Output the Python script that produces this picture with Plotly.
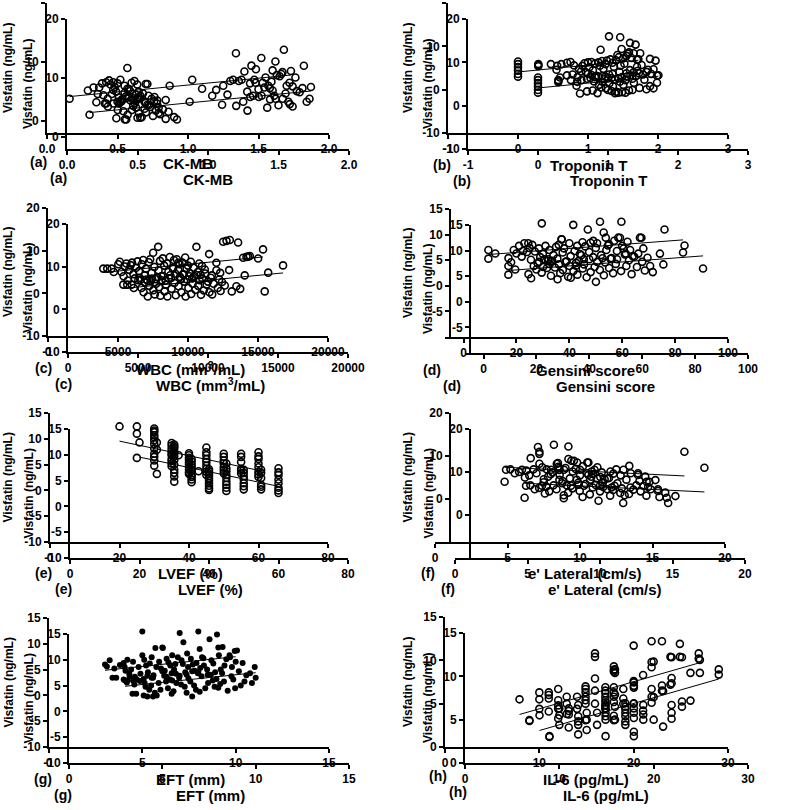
import numpy as np
import plotly.graph_objects as go

# ---------------- data ----------------
a_x = [0.16,0.29,0.33,0.35,0.36,0.37,0.39,0.40,0.41,0.42,
       0.42,0.43,0.44,0.45,0.46,0.47,0.47,0.48,0.49,0.50,
       0.50,0.51,0.52,0.52,0.53,0.55,0.55,0.56,0.57,0.57,
       0.58,0.59,0.60,0.61,0.62,0.63,0.64,0.65,0.65,0.66,
       0.68,0.70,0.70,0.72,0.76,0.78,0.87,1.03,1.10,1.20,
       1.25,1.28,1.30,1.32,1.34,1.36,1.38,1.40,1.42,1.44,
       1.45,1.47,1.48,1.50,1.52,1.53,1.55,1.57,1.58,1.60,
       1.60,1.62,1.63,1.65,1.67,1.68,1.70,1.72,1.73]
a_y = [3.8,5.2,5.7,3.2,4.6,5.7,6.4,4.4,3.0,6.6,
       3.0,3.8,6.9,6.2,4.6,6.6,5.3,5.8,5.0,6.4,
       3.3,4.0,7.0,3.3,3.4,6.0,4.8,4.2,9.0,5.5,
       5.4,5.1,6.5,3.6,6.8,4.5,6.2,5.0,4.1,3.9,
       4.7,6.3,3.1,4.3,3.4,3.0,6.0,7.0,5.5,5.3,
       6.0,4.5,6.8,7.0,11.5,6.8,7.0,8.4,5.0,6.4,
       9.4,7.0,6.5,5.4,10.7,6.5,7.4,6.0,5.6,8.6,
       5.2,10.1,7.8,7.6,8.3,12.1,6.0,6.5,8.5]

b_x = [0,0,0,0,0,0,0.29,0.29,0.29,0.47,
       0.55,0.56,0.60,0.62,0.70,0.70,0.75,0.78,0.80,0.85,
       0.87,0.90,0.92,0.95,0.97,1.00,1.00,1.02,1.05,1.05,
       1.07,1.10,1.10,1.12,1.15,1.15,1.17,1.18,1.20,1.20,
       1.22,1.25,1.25,1.27,1.30,1.30,1.32,1.35,1.35,1.37,
       1.40,1.42,1.44,1.45,1.46,1.48,1.50,1.52,1.55,1.55,
       1.57,1.60,1.60,1.62,1.65,1.65,1.68,1.70,1.70,1.72]
b_y = [6.5,5.9,5.2,4.4,3.6,3.0,5.7,5.4,5.9,5.9,
       4.6,5.5,2.8,5.9,6.2,3.3,6.4,3.5,5.6,2.9,
       4.8,4.2,5.5,6.1,4.0,6.3,3.6,5.2,6.4,3.4,
       4.5,6.0,2.9,3.2,6.3,3.0,5.5,9.2,6.6,3.1,
       4.8,5.9,3.0,6.7,12.3,3.5,7.0,6.2,3.6,5.3,
       6.8,8.0,7.5,4.1,12.1,9.4,7.2,6.0,7.8,3.8,
       8.3,10.8,4.5,7.3,8.4,4.0,10.4,6.9,5.3,7.0]

c_x = [3950,4230,4540,4700,5020,5130,5250,5400,5500,5600,
       5700,5800,5900,6000,6100,6200,6300,6400,6500,6600,
       6700,6800,6900,7000,7100,7200,7300,7400,7510,7600,
       7700,7870,7900,8000,8100,8200,8300,8400,8500,8600,
       8700,8800,8900,9000,9100,9200,9300,9400,9500,9600,
       9700,9800,9900,10000,10100,10200,10300,10400,10600,10700,
       10800,10900,11000,11200,11510,11700,12030,12300,12510,12750,
       12990,13580,14050,14300,15360]
c_y = [5.8,5.8,5.8,5.0,6.8,7.4,5.0,4.0,6.3,7.0,
       3.0,5.5,6.6,7.2,4.5,3.5,6.0,7.5,5.2,3.2,
       6.8,7.8,4.2,5.8,3.0,7.3,8.0,4.8,9.5,6.2,
       3.3,10.9,5.4,7.6,4.0,8.2,6.5,3.0,7.0,5.0,
       8.5,3.6,6.0,7.8,4.6,8.0,5.5,6.8,3.4,7.2,
       4.4,8.4,5.8,6.5,4.0,7.4,3.5,6.0,10.9,5.0,
       7.0,4.3,6.4,5.6,9.2,4.2,5.4,4.8,12.1,12.3,
       12.5,11.9,4.2,8.6,10.3]

d_x = [9.4,9.4,12,17,18,19,20,21,22,22.5,
       23,24,24.5,25,25.5,26,27,28,28.5,29,
       29.6,30,31,32,32.5,33,34,35,35.5,36,
       37,37.5,38,39,40,40.5,41.5,42,42.5,43,
       44,45,45.5,46,47,47.5,48,49,50,50.5,
       51.6,52,53,53.8,54,55,56,57,58,58.5,
       59.7,60,61,62,63,64,66.7,68,76,83]
d_y = [7.0,5.3,6.3,5.4,4.6,7.0,6.3,7.8,5.7,6.8,
       8.3,6.6,8.3,7.4,5.1,8.0,6.7,4.4,7.3,5.6,
       12.2,6.2,7.8,4.9,7.0,4.7,6.0,7.6,5.3,8.0,
       9.1,6.5,7.3,4.8,8.3,5.8,11.9,6.8,3.9,7.8,
       6.2,8.5,5.2,7.7,11.0,6.6,8.4,5.6,7.4,8.3,
       12.5,6.0,10.4,9.4,7.0,8.1,5.4,8.8,6.8,9.4,
       12.5,7.8,6.1,8.6,7.0,5.8,9.4,7.3,11.0,6.5]

e_x = [20,25,25,25,30,30,30,30,30,30,
       30,30,30,30,30,30,35,35,35,35,
       35,35,35,35,35,35,37,40,40,40,
       40,40,40,40,40,40,40,45,45,45,
       45,45,45,45,45,45,50,50,50,50,
       50,50,50,55,55,55,55,55,55,60,
       60,60,60,60,60,60,60]
e_y = [12.4,12.4,11.0,6.3,12.0,11.6,11.3,10.7,10.3,9.7,
       9.0,8.1,7.1,6.5,5.8,4.8,9.2,8.7,8.1,7.6,
       7.1,6.8,6.1,5.7,5.2,4.7,6.8,7.2,6.8,6.3,
       5.9,5.4,5.0,4.5,4.0,3.5,3.2,8.3,7.4,6.8,
       6.1,5.5,4.8,4.2,3.6,3.0,7.1,6.5,5.8,5.2,
       4.5,3.9,3.3,7.1,6.5,5.5,4.2,3.8,3.3,7.4,
       6.6,6.1,5.2,4.5,3.6,3.1,2.6]

f_x = [4.8,4.9,5.2,5.5,5.8,6.0,6.2,6.3,6.5,6.6,
       6.8,7.0,7.1,7.2,7.2,7.2,7.4,7.5,7.5,7.7,
       7.8,8.0,8.1,8.2,8.4,8.5,8.6,8.8,8.9,9.0,
       9.2,9.2,9.3,9.4,9.5,9.7,9.8,9.9,10.0,10.0,
       10.2,10.5,10.5,10.7,10.8,10.9,11.0,11.2,11.4,11.5,
       11.6,11.7,12.0,12.1,12.3,12.5,12.8,13.0,13.2,13.4,
       13.5,14.0,14.0,14.1,14.5,14.6,14.7,15.2,17.2]
f_y = [4.0,6.8,6.9,6.0,6.3,6.8,5.0,6.6,5.5,9.5,
       6.9,6.0,12.1,11.0,10.5,8.2,7.4,4.6,3.9,6.9,
       5.2,6.8,6.2,12.6,8.2,7.5,5.6,4.2,6.8,7.2,
       12.2,9.3,4.8,8.9,6.4,7.0,8.5,3.3,6.8,5.5,
       7.6,8.5,6.0,4.5,6.4,5.8,6.8,7.4,5.1,6.2,
       2.8,4.6,4.9,6.4,5.9,6.9,5.5,6.8,4.5,7.7,
       6.0,6.0,5.6,4.2,5.2,4.0,2.8,4.4,11.0]

g_x = [3.0,3.1,3.25,3.4,3.5,3.6,3.8,4.0,4.0,4.05,
       4.1,4.2,4.2,4.3,4.4,4.5,4.5,4.6,4.7,4.8,
       4.9,5.0,5.0,5.1,5.2,5.3,5.4,5.5,5.5,5.6,
       5.7,5.75,5.9,6.0,6.1,6.2,6.3,6.3,6.4,6.5,
       6.6,6.6,6.7,6.8,6.9,7.0,7.0,7.1,7.2,7.3,
       7.4,7.45,7.6,7.7,7.8,7.9,8.0,8.0,8.1,8.2,
       8.3,8.5,8.6,8.7,8.8,8.9,9.0,9.1,9.2,9.3,
       9.4,9.5,9.7,9.8,9.95,10.0]
g_y = [6.0,5.6,6.8,3.4,5.2,3.4,5.9,6.3,3.1,5.5,
       4.8,6.9,2.9,4.2,5.0,6.5,2.9,3.6,3.1,5.5,
       4.2,12.4,7.8,6.9,5.8,4.5,6.2,7.4,3.4,3.9,
       9.2,5.5,6.5,5.2,9.2,4.8,7.1,3.6,6.4,5.8,
       7.8,2.9,5.0,4.2,7.4,12.1,3.8,6.8,10.3,4.5,
       8.1,5.5,7.1,6.0,4.8,6.3,12.4,4.6,5.3,7.4,
       5.8,4.0,10.9,6.8,6.2,4.5,11.8,7.8,5.0,9.4,
       5.8,7.0,7.4,5.5,8.6,6.5]

h_x = [7.9,8.95,8.95,10,10,10,11,11,11,11,
       12,12,12,12,12,12.9,12.9,12.9,14,14,
       14.9,14.9,14.9,14.9,14.9,14.9,14.9,15.9,15.9,15.9,
       15.9,15.9,17,17,17,17,17,17,17,17.9,
       17.9,17.9,17.9,17.9,17.9,17.9,17.9,17.9,18.9,18.9,
       18.9,20,20,20,21,21,21.9,21.9,21.9,21.9,
       21.9,21.9,23,23,23,23.9,23.9,24.9,24.9,26.9,
       26.9]
h_y = [5.5,3.1,3.0,6.3,5.5,4.4,6.3,6.0,5.6,4.1,
       6.7,5.4,4.8,4.4,3.3,5.8,5.0,3.8,5.8,4.4,
       7.0,6.7,6.3,5.8,5.4,5.0,3.1,10.8,10.4,7.9,
       6.5,5.0,6.9,6.5,6.2,5.8,5.4,4.8,4.4,9.3,
       8.9,8.7,6.9,6.3,5.8,5.2,3.6,3.1,6.7,5.6,
       5.0,11.7,7.6,5.0,8.3,4.2,12.2,9.8,9.2,6.7,
       5.8,5.1,12.2,7.1,6.5,10.4,7.2,11.9,10.4,10.8,
       10.2]

panel_labels = ["(a)", "(b)", "(c)", "(d)", "(e)", "(f)", "(g)", "(h)"]
x_titles = ["CK-MB", "Troponin T", "WBC (mm<sup>3</sup>/mL)", "Gensini score",
            "LVEF (%)", "e' Lateral (cm/s)", "EFT (mm)", "IL-6 (pg/mL)"]
y_title = "Visfatin (ng/mL)"

a_xticks = [0, 0.5, 1.0, 1.5, 2.0]
a_xticktext = ["0.0", "0.5", "1.0", "1.5", "2.0"]
a_yticks = [0, 10, 20]
b_xticks = [-1, 0, 1, 2, 3]
b_yticks = [-10, 0, 10, 20]
c_xticks = [0, 5000, 10000, 15000, 20000]
c_yticks = [-10, 0, 10, 20]
d_xticks = [0, 20, 40, 60, 80, 100]
d_yticks = [-5, 0, 5, 10, 15]
e_xticks = [0, 20, 40, 60, 80]
e_yticks = [-10, -5, 0, 5, 10, 15]
f_xticks = [0, 5, 10, 15, 20]
f_yticks = [0, 10, 20]
g_xticks = [0, 5, 10, 15]
g_yticks = [-10, -5, 0, 5, 10, 15]
h_xticks = [0, 10, 20, 30]
h_yticks = [0, 5, 10, 15]

# ---------------- layout geometry (pixels) ----------------
W, H = 785, 810
SHIFTS = [(0, 0), (20, 16)]   # the reference is a doubly exposed figure
FONT = "Arial, Liberation Sans, sans-serif"


def tt(vals):
    return [str(v) for v in vals]


panels = [
    dict(x=a_x, y=a_y, box=(47, 329, 3, 133), xr=[0, 2], yr=[-2, 20],
         xt=a_xticks, xtt=a_xticktext, yt=a_yticks, ypos=None, filled=False,
         title=(188, 163), label=(38, 162), ytx=8),
    dict(x=b_x, y=b_y, box=(448, 728, 3, 133), xr=[-1, 3], yr=[-10, 20],
         xt=b_xticks, xtt=tt(b_xticks), yt=b_yticks, ypos=None, filled=False,
         title=(588, 165), label=(442, 165), ytx=408),
    dict(x=c_x, y=c_y, box=(48, 328, 208, 336), xr=[0, 20000], yr=[-10, 20],
         xt=c_xticks, xtt=tt(c_xticks), yt=c_yticks, ypos=None, filled=False,
         title=(190, 368), label=(43, 368), ytx=8),
    dict(x=d_x, y=d_y, box=(445, 728, 209, 337), xr=[-7, 100], yr=[-10, 15],
         xt=d_xticks, xtt=tt(d_xticks), yt=d_yticks, ypos=450, filled=False,
         title=(585, 370), label=(432, 370), ytx=408),
    dict(x=e_x, y=e_y, box=(50, 328, 413, 542), xr=[0, 80], yr=[-10, 15],
         xt=e_xticks, xtt=tt(e_xticks), yt=e_yticks, ypos=None, filled=False,
         title=(190, 573), label=(43, 573), ytx=8),
    dict(x=f_x, y=f_y, box=(435, 725, 413, 542), xr=[0, 20], yr=[-10, 20],
         xt=f_xticks, xtt=tt(f_xticks), yt=f_yticks, ypos=450, filled=False,
         title=(585, 573), label=(428, 573), ytx=408),
    dict(x=g_x, y=g_y, box=(49, 329, 618, 747), xr=[0, 15], yr=[-10, 15],
         xt=g_xticks, xtt=tt(g_xticks), yt=g_yticks, ypos=None, filled=True,
         title=(190, 779), label=(43, 779), ytx=8),
    dict(x=h_x, y=h_y, box=(445, 728, 617, 747), xr=[0, 30], yr=[0, 15],
         xt=h_xticks, xtt=tt(h_xticks), yt=h_yticks, ypos=None, filled=False,
         title=(586, 779), label=(438, 776), ytx=408),
]

fig = go.Figure()
layout = {}
annotations = []
idx = 0
for pi, p in enumerate(panels):
    coef = np.polyfit(p["x"], p["y"], 1)
    fx = [min(p["x"]), max(p["x"])]
    fy = list(np.polyval(coef, fx))
    for dx, dy in SHIFTS:
        idx += 1
        xn = "x" if idx == 1 else f"x{idx}"
        yn = "y" if idx == 1 else f"y{idx}"
        xk = "xaxis" if idx == 1 else f"xaxis{idx}"
        yk = "yaxis" if idx == 1 else f"yaxis{idx}"
        x0, x1, y0, y1 = p["box"]
        common = dict(showgrid=False, zeroline=False, showline=True,
                      linecolor="black", linewidth=2, ticks="outside",
                      ticklen=4, tickwidth=2, tickcolor="black",
                      tickfont=dict(family=FONT, size=12, color="black", weight="bold"),
                      automargin=False, fixedrange=True)
        layout[xk] = dict(domain=[(x0 + dx) / W, (x1 + dx) / W], range=p["xr"],
                          anchor=yn, tickmode="array", tickvals=p["xt"],
                          ticktext=p["xtt"], **common)
        ydict = dict(domain=[1 - (y1 + dy) / H, 1 - (y0 + dy) / H], range=p["yr"],
                     tickmode="array", tickvals=p["yt"], ticktext=tt(p["yt"]),
                     **common)
        if p["ypos"] is None:
            ydict["anchor"] = xn
        else:
            ydict["anchor"] = "free"
            ydict["position"] = (p["ypos"] + dx) / W
        layout[yk] = ydict

        if p["filled"]:
            marker = dict(symbol="circle", size=6, color="black")
        else:
            marker = dict(symbol="circle-open", size=7, color="black",
                          line=dict(width=1.6))
        fig.add_trace(go.Scatter(x=p["x"], y=p["y"], mode="markers", marker=marker,
                                 xaxis=xn, yaxis=yn, showlegend=False,
                                 cliponaxis=False, hoverinfo="skip"))
        fig.add_trace(go.Scatter(x=fx, y=fy, mode="lines",
                                 line=dict(color="black", width=1),
                                 xaxis=xn, yaxis=yn, showlegend=False,
                                 hoverinfo="skip"))

        tx, ty = p["title"]
        annotations.append(dict(text=x_titles[pi], x=(tx + dx) / W, y=1 - (ty + dy) / H,
                                xref="paper", yref="paper", showarrow=False,
                                xanchor="center", yanchor="middle",
                                font=dict(family=FONT, size=15, color="black", weight="bold")))
        lx, ly = p["label"]
        annotations.append(dict(text=panel_labels[pi], x=(lx + dx) / W, y=1 - (ly + dy) / H,
                                xref="paper", yref="paper", showarrow=False,
                                xanchor="center", yanchor="middle",
                                font=dict(family=FONT, size=14, color="black", weight="bold")))
        annotations.append(dict(text=y_title, x=(p["ytx"] + dx) / W,
                                y=1 - ((y0 + y1) / 2 + dy) / H,
                                xref="paper", yref="paper", showarrow=False,
                                textangle=-90, xanchor="center", yanchor="middle",
                                font=dict(family=FONT, size=12, color="black", weight="bold")))

fig.update_layout(width=W, height=H, autosize=False,
                  margin=dict(l=0, r=0, t=0, b=0),
                  paper_bgcolor="white", plot_bgcolor="rgba(0,0,0,0)",
                  annotations=annotations, showlegend=False, **layout)

fig.write_html("out.html",
               config={"displayModeBar": False, "staticPlot": True},
               post_script="document.body.style.margin='0px';"
                           "document.body.style.overflow='hidden';")
